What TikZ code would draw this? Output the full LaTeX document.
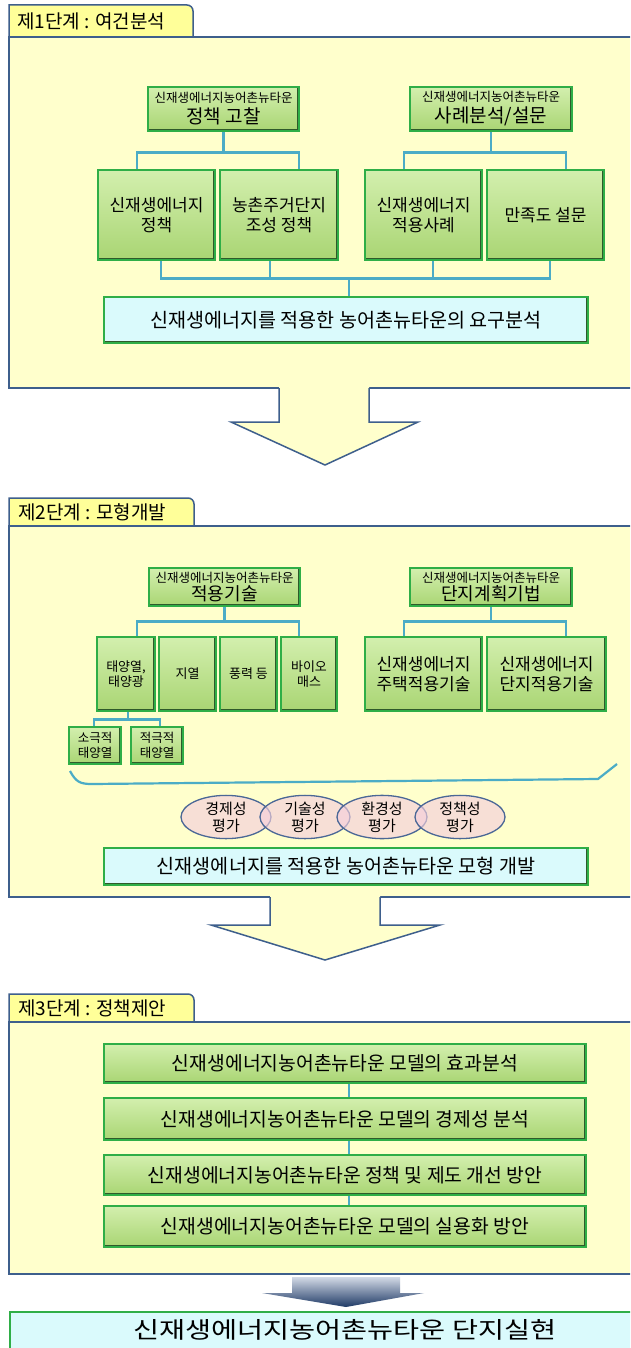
\documentclass[tikz,border=0pt]{standalone}
\usepackage{fontspec}
\setmainfont{Noto Sans CJK KR}
\newfontfamily\widefont[FakeStretch=1.23]{Noto Sans CJK KR}
\usetikzlibrary{shapes.geometric}
\definecolor{framec}{HTML}{3E5F8C}
\definecolor{bodyc}{HTML}{FFFFCC}
\definecolor{tabc}{HTML}{FFFF99}
\definecolor{connc}{HTML}{4BACC6}
\definecolor{gtop}{HTML}{D3EFAE}
\definecolor{gbot}{HTML}{A9D573}
\definecolor{gborder}{HTML}{2FAE47}
\definecolor{gdark}{HTML}{2F5A2A}
\definecolor{cyanc}{HTML}{DAFAFC}
\definecolor{epink}{HTML}{F4CFDC}
\definecolor{eborder}{HTML}{4A6796}
\definecolor{arrtop}{HTML}{D3DAE6}
\definecolor{arrbot}{HTML}{1F3A66}
\begin{document}
\begin{tikzpicture}[x=1pt,y=-1pt,
  frame/.style={draw=framec,line width=1.5pt,line join=miter},
  tabtext/.style={font=\fontsize{19}{21}\selectfont,inner sep=0pt,anchor=west},
  conn/.style={draw=connc,line width=2.5pt,line join=miter},
  gbox/.style={draw=gborder,line width=1.3pt,top color=gtop,bottom color=gbot,inner sep=0pt,align=center,
    path picture={\draw[line width=3.5pt,gdark] (path picture bounding box.south west) -- (path picture bounding box.south east) -- (path picture bounding box.north east);}},
  cbox/.style={draw=gborder,line width=1.3pt,fill=cyanc,inner sep=0pt,align=center,
    path picture={\draw[line width=3.5pt,gdark] (path picture bounding box.south west) -- (path picture bounding box.south east) -- (path picture bounding box.north east);}},
  evalnode/.style={ellipse,draw=eborder,line width=1.3pt,fill=epink,fill opacity=0.65,text opacity=1,
    minimum width=90,minimum height=43,inner sep=0pt,align=center,font=\fontsize{15}{17}\selectfont},
  hfont/.style={font=\fontsize{19}{21}\selectfont},
  cfont/.style={font=\fontsize{17}{19.5}\selectfont},
  sfont/.style={font=\fontsize{13}{15.5}\selectfont},
  rfont/.style={font=\fontsize{19.6}{22}\selectfont},
  pfont/.style={font=\fontsize{19.3}{22}\selectfont},
]
\useasboundingbox (0,0) rectangle (630,1348);
\clip (0,0) rectangle (630,1348);
\fill[white] (0,0) rectangle (630,1348);

% ---------------- Stage 1 ----------------
\filldraw[frame,fill=tabc] (9,37) -- (9,5) -- (187,5) arc[start angle=270,end angle=360,radius=6] -- (193,37);
\filldraw[frame,fill=bodyc] (9,37) rectangle (650,388);
\node[tabtext] (T1) at (17,21) {제1단계 : 여건분석};

\node[gbox,hfont,minimum width=151,minimum height=44] (A) at (223.5,109)
  {{\fontsize{12.5}{14}\selectfont 신재생에너지농어촌뉴타운}\\[0pt]정책 고찰};
\node[gbox,hfont,minimum width=162,minimum height=44] (B) at (491,109)
  {{\fontsize{12.5}{14}\selectfont 신재생에너지농어촌뉴타운}\\[0pt]사례분석/설문};
\node[gbox,cfont,minimum width=117,minimum height=90] (C1) at (156.5,215) {신재생에너지\\정책};
\node[gbox,cfont,minimum width=118,minimum height=90] (C2) at (279,215) {농촌주거단지\\조성 정책};
\node[gbox,cfont,minimum width=117,minimum height=90] (C3) at (423.5,215) {신재생에너지\\적용사례};
\node[gbox,cfont,minimum width=117,minimum height=90] (C4) at (545.5,215) {만족도 설문};
\node[cbox,rfont,minimum width=484,minimum height=46] (R1) at (346,320) {신재생에너지를 적용한 농어촌뉴타운의 요구분석};

\draw[conn] (A.south) -- ++(0,22);
\draw[conn] ([xshift=-19.5pt]C1.north) -- ++(0,-17) -| ([xshift=20pt]C2.north);
\draw[conn] (B.south) -- ++(0,22);
\draw[conn] ([xshift=-19.5pt]C3.north) -- ++(0,-17) -| ([xshift=20.5pt]C4.north);
\draw[conn] ([xshift=4.5pt]C1.south) -- ++(0,18) -| ([xshift=4.5pt]C4.south);
\draw[conn] ([xshift=-9pt]C2.south) -- ++(0,18);
\draw[conn] ([xshift=9.5pt]C3.south) -- ++(0,18);
\draw[conn] ([xshift=3pt]R1.north) -- ++(0,-19);

% arrow 1
\fill[bodyc] (279,386) -- (279,422) -- (231,422) -- (325,465) -- (418,422) -- (369,422) -- (369,386) -- cycle;
\draw[frame] (279,388) -- (279,422) -- (231,422) -- (325,465) -- (418,422) -- (369,422) -- (369,388);

% ---------------- Stage 2 ----------------
\filldraw[frame,fill=tabc] (9,526) -- (9,498) -- (188,498) arc[start angle=270,end angle=360,radius=6] -- (194,526);
\filldraw[frame,fill=bodyc] (9,526) rectangle (650,897);
\node[tabtext] (T2) at (18,512) {제2단계 : 모형개발};

\node[gbox,font=\fontsize{18}{20}\selectfont,minimum width=151,minimum height=38] (D) at (224.5,587)
  {{\fontsize{12.5}{14}\selectfont 신재생에너지농어촌뉴타운}\\[-2pt]적용기술};
\node[gbox,font=\fontsize{18}{20}\selectfont,minimum width=162,minimum height=38] (E) at (491,587)
  {{\fontsize{12.5}{14}\selectfont 신재생에너지농어촌뉴타운}\\[-2pt]단지계획기법};
\node[gbox,sfont,minimum width=58,minimum height=74] (F1) at (126,674) {태양열,\\태양광};
\node[gbox,sfont,minimum width=57,minimum height=74] (F2) at (187.5,674) {지열};
\node[gbox,sfont,minimum width=57,minimum height=74] (F3) at (248.5,674) {풍력 등};
\node[gbox,sfont,minimum width=56,minimum height=74] (F4) at (309,674) {바이오\\매스};
\node[gbox,cfont,minimum width=117,minimum height=74] (G1) at (423.5,674) {신재생에너지\\주택적용기술};
\node[gbox,cfont,minimum width=119,minimum height=74] (G2) at (546.5,674) {신재생에너지\\단지적용기술};
\node[gbox,font=\fontsize{12.5}{14.5}\selectfont,minimum width=52,minimum height=37] (H1) at (95,745.5) {소극적\\태양열};
\node[gbox,font=\fontsize{12.5}{14.5}\selectfont,minimum width=52,minimum height=37] (H2) at (157,745.5) {적극적\\태양열};

\draw[conn] (D.south) -- ++(0,16);
\draw[conn] ([xshift=11pt]F1.north) -- ++(0,-15) -| ([xshift=-10pt]F4.north);
\draw[conn] (E.south) -- ++(0,16);
\draw[conn] ([xshift=-19.5pt]G1.north) -- ++(0,-15) -| ([xshift=19.5pt]G2.north);
\draw[conn] ([xshift=2pt]F1.south) -- ++(0,9);
\draw[conn] ([xshift=-1pt]H1.north) -- ++(0,-7) -| ([xshift=3pt]H2.north);

% brace line
\draw[connc,line width=2.2pt,line join=round] (70,771) .. controls (76,782) and (80,784) .. (92,784) -- (598,779) -- (617,764);

\node[evalnode] (Q1) at (226,817) {경제성\\평가};
\node[evalnode] (Q2) at (305,817) {기술성\\평가};
\node[evalnode] (Q3) at (382,817) {환경성\\평가};
\node[evalnode] (Q4) at (460,817) {정책성\\평가};

\node[cbox,rfont,minimum width=484,minimum height=37] (R2) at (346,866.5) {신재생에너지를 적용한 농어촌뉴타운 모형 개발};

% arrow 2
\fill[bodyc] (270,895) -- (270,925) -- (211,925) -- (325,960) -- (440,925) -- (380,925) -- (380,895) -- cycle;
\draw[frame] (270,897) -- (270,925) -- (211,925) -- (325,960) -- (440,925) -- (380,925) -- (380,897);

% ---------------- Stage 3 ----------------
\filldraw[frame,fill=tabc] (9,1022) -- (9,994) -- (188,994) arc[start angle=270,end angle=360,radius=6] -- (194,1022);
\filldraw[frame,fill=bodyc] (9,1022) rectangle (650,1274);
\node[tabtext] (T3) at (18,1008) {제3단계 : 정책제안};

\node[gbox,pfont,minimum width=482,minimum height=39] (P1) at (345,1063.5) {신재생에너지농어촌뉴타운 모델의 효과분석};
\node[gbox,pfont,minimum width=482,minimum height=42] (P2) at (345,1119) {신재생에너지농어촌뉴타운 모델의 경제성 분석};
\node[gbox,pfont,minimum width=482,minimum height=40] (P3) at (345,1175) {신재생에너지농어촌뉴타운 정책 및 제도 개선 방안};
\node[gbox,pfont,minimum width=482,minimum height=41] (P4) at (345,1226.5) {신재생에너지농어촌뉴타운 모델의 실용화 방안};

\draw[conn,line width=2pt] ([xshift=4pt]P1.south) -- ([xshift=4pt]P2.north);
\draw[conn,line width=2pt] ([xshift=4pt]P2.south) -- ([xshift=4pt]P3.north);
\draw[conn,line width=2pt] ([xshift=4pt]P3.south) -- ([xshift=4pt]P4.north);

% gradient arrow
\shade[top color=arrtop,bottom color=arrbot] (292,1277) -- (292,1293) -- (262,1293) -- (346,1307) -- (424,1293) -- (400,1293) -- (400,1277) -- cycle;

% final box
\filldraw[draw=gborder,line width=1.6pt,fill=cyanc] (10,1312) rectangle (650,1365);
\node[font=\widefont\fontsize{23}{25}\selectfont,inner sep=0pt] (Z) at (345,1330) {신재생에너지농어촌뉴타운 단지실현};
\end{tikzpicture}
\end{document}
